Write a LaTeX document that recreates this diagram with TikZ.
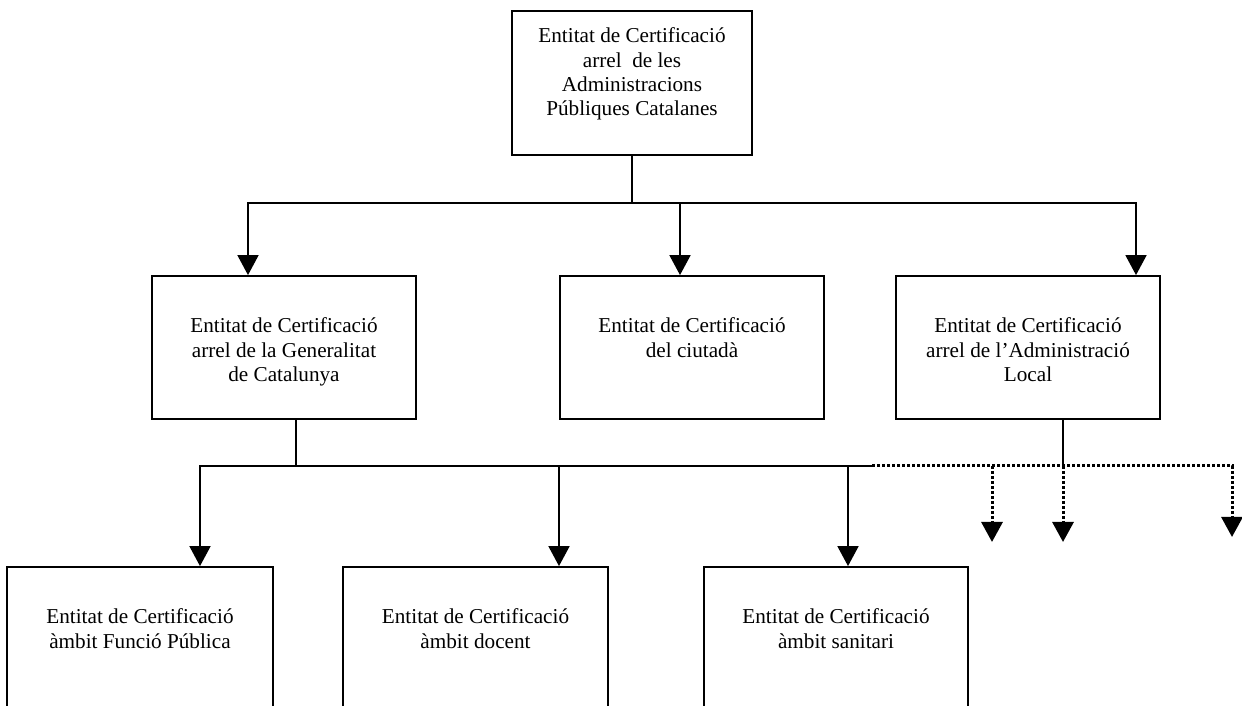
\documentclass[tikz,border=0pt]{standalone}
\usepackage{fontspec}
\setmainfont{Liberation Serif}
\usetikzlibrary{arrows.meta,positioning}

\begin{document}
\begin{tikzpicture}[x=1pt,y=1pt,line width=1.8pt,>={Triangle[length=20pt,width=21pt]},
                    box/.style={draw,rectangle,inner sep=0pt,minimum width=264pt,minimum height=143pt},
                    lowbox/.style={box,minimum height=160pt},
                    boxtext/.style={align=center,inner sep=0pt,font=\fontsize{21.2}{24.2}\selectfont},
                    pending/.style={line width=3pt,dash pattern=on 3pt off 2pt},
                ]
  \useasboundingbox (0,0) rectangle (1242,706);
  \clip (0,0) rectangle (1242,706);

  \node[box,minimum width=240pt,minimum height=144pt] (top)  at (632,623)   {};
  \node[box]                (gen)   at (284,358.5)  {};
  \node[box]                (ciut)  at (692,358.5)  {};
  \node[box]                (local) at (1028,358.5) {};
  \node[lowbox,minimum width=266pt] (fp)  at (140,59)   {};
  \node[lowbox,minimum width=265pt] (doc) at (475.5,59) {};
  \node[lowbox]             (sanit) at (836,59)     {};

  \node[boxtext] (topT)   [below=17pt of top.north]   {Entitat de Certificació\\arrel~ de les\\Administracions\\Públiques Catalanes};
  \node[boxtext] (genT)   [below=42pt of gen.north]   {Entitat de Certificació\\arrel de la Generalitat\\de Catalunya};
  \node[boxtext] (ciutT)  [below=42pt of ciut.north]  {Entitat de Certificació\\del ciutadà};
  \node[boxtext] (localT) [below=42pt of local.north] {Entitat de Certificació\\arrel de l’Administració\\Local};
  \node[boxtext] (fpT)    [below=42pt of fp.north]    {Entitat de Certificació\\àmbit Funció Pública};
  \node[boxtext] (docT)   [below=42pt of doc.north]   {Entitat de Certificació\\àmbit docent};
  \node[boxtext] (sanitT) [below=42pt of sanit.north] {Entitat de Certificació\\àmbit sanitari};

  \coordinate (busA)   at (632,503);
  \coordinate (busB)   at (296,240);
  \coordinate (busEnd) at (872,240);
  \coordinate (busC)   at (1063,240);
  \coordinate (out1)   at (992,164);
  \coordinate (out2)   at (1063,164);
  \coordinate (out3)   at (1232,169);

  \draw    (top.south) -- (busA);
  \draw[->] (busA) -| ([xshift=-36pt]gen.north);
  \draw[->] (busA) -| ([xshift=-12pt]ciut.north);
  \draw[->] (busA) -| ([xshift=108pt]local.north);

  \draw    ([xshift=12pt]gen.south) -- (busB);
  \draw[->] (busB) -| ([xshift=60pt]fp.north);
  \draw[->] (busB) -| ([xshift=83.5pt]doc.north);
  \draw[->] (busB) -| ([xshift=12pt]sanit.north);
  \draw    (busB) -- (busEnd);

  \draw    ([xshift=35pt]local.south) -- (busC);
  \draw[pending,->] (busEnd) -| (out3);
  \draw[pending,->] (busEnd -| out1) -- (out1);
  \draw[pending,->] (busC) -- (out2);
\end{tikzpicture}
\end{document}
